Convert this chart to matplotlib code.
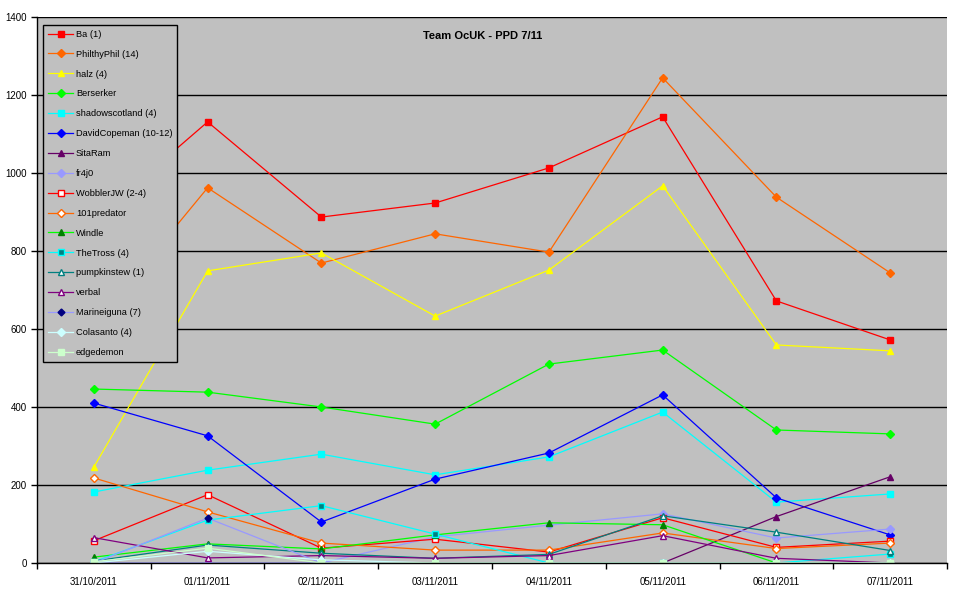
import numpy as np
import matplotlib.pyplot as plt
from matplotlib.ticker import MultipleLocator

plt.rcParams['font.family'] = ['Liberation Sans', 'DejaVu Sans']

nan = np.nan
fechas = ["31/10/2011", "01/11/2011", "02/11/2011", "03/11/2011",
          "04/11/2011", "05/11/2011", "06/11/2011", "07/11/2011"]

ba = [879, 1131, 887, 923, 1013, 1144, 672, 572]
philthyphil = [608, 962, 769, 844, 797, 1244, 938, 744]
halz = [246, 749, 795, 633, 751, 967, 559, 544]
berserker = [446, 438, 400, 356, 510, 546, 341, 331]
shadowscotland = [182, 238, 279, 226, 272, 387, 156, 177]
davidcopeman = [410, 326, 105, 215, 282, 431, 167, 72]
sitaram = [nan, nan, nan, nan, nan, 0, 119, 221]
fr4j0 = [0, 0, 0, 67, 97, 126, 64, 87]
wobblerjw = [57, 175, 38, 61, 28, 116, 40, 56]
predator101 = [218, 131, 51, 33, 33, 77, 37, 51]
windle = [15, 49, 36, 72, 103, 98, 0, 0]
thetross = [3, 110, 147, 74, 0, 0, 0, 23]
pumpkinstew = [5, 46, 25, 12, 22, 121, 79, 32]
verbal = [65, 13, 19, 12, 19, 70, 12, 0]
marineiguna = [0, 115, 0, 0, 0, 0, 0, 0]
colasanto = [0, 30, 8, 0, 0, 0, 0, 0]
edgedemon = [3, 38, 0, 0, 0, 0, 0, 0]

# (nombre, datos, color linea, marcador, relleno, borde, tamaño)
series = [
    ("Ba (1)", ba, "#FF0000", "s", "#FF0000", "#FF0000", 4.5),
    ("PhilthyPhil (14)", philthyphil, "#FF6600", "D", "#FF6600", "#FF6600", 4),
    ("halz (4)", halz, "#FFFF00", "^", "#FFFF00", "#FFFF00", 5),
    ("Berserker", berserker, "#00FF00", "D", "#00FF00", "#00FF00", 4),
    ("shadowscotland (4)", shadowscotland, "#00FFFF", "s", "#00FFFF", "#00FFFF", 4.5),
    ("DavidCopeman (10-12)", davidcopeman, "#0000FF", "D", "#0000FF", "#0000FF", 4),
    ("SitaRam", sitaram, "#660066", "^", "#660066", "#660066", 5),
    ("fr4j0", fr4j0, "#9999FF", "D", "#9999FF", "#9999FF", 4),
    ("WobblerJW (2-4)", wobblerjw, "#FF0000", "s", "white", "#FF0000", 4.5),
    ("101predator", predator101, "#FF6600", "D", "white", "#FF6600", 4),
    ("Windle", windle, "#00FF00", "^", "#008000", "#008000", 5),
    ("TheTross (4)", thetross, "#00FFFF", "s", "#008080", "#00FFFF", 4.5),
    ("pumpkinstew (1)", pumpkinstew, "#008080", "^", "white", "#008080", 5),
    ("verbal", verbal, "#800080", "^", "white", "#800080", 5),
    ("Marineiguna (7)", marineiguna, "#9999FF", "D", "#000080", "#000080", 3.5),
    ("Colasanto (4)", colasanto, "#CCFFFF", "D", "#CCFFFF", "#CCFFFF", 4),
    ("edgedemon", edgedemon, "#CCFFCC", "s", "#CCFFCC", "#CCFFCC", 4.5),
]

fig = plt.figure(figsize=(9.76, 6.0), dpi=100)
ax = fig.add_axes([0.0379, 0.0617, 0.9324, 0.91])
ax.set_facecolor("#C0C0C0")

x = np.arange(len(fechas))
for nombre, datos, color, marca, relleno, borde, tam in series:
    ax.plot(x, datos, color=color, linewidth=0.9, marker=marca, markersize=tam,
            markerfacecolor=relleno, markeredgecolor=borde, markeredgewidth=1,
            label=nombre)

# ejes
ax.set_xlim(-0.5, len(fechas) - 0.5)
ax.set_ylim(0, 1400)
ax.yaxis.set_major_locator(MultipleLocator(200))
ax.grid(axis="y", color="black", linewidth=1)
ax.set_axisbelow(True)
ax.set_xticks(x)
ax.set_xticklabels(fechas, fontsize=7)
ax.set_xticks(np.arange(-0.5, len(fechas)), minor=True)
ax.tick_params(axis="x", which="major", length=0, pad=10)
ax.tick_params(axis="x", which="minor", length=4, width=1, direction="out")
ax.tick_params(axis="y", labelsize=7, length=4, width=1, direction="out")
for lado in ["top", "right"]:
    ax.spines[lado].set_visible(False)
for lado in ["left", "bottom"]:
    ax.spines[lado].set_linewidth(1)

ax.text(0.49, 0.975, "Team OcUK - PPD 7/11", transform=ax.transAxes,
        ha="center", va="top", fontsize=8, fontweight="bold")

leg = ax.legend(loc="upper left", bbox_to_anchor=(0.007, 0.985), fontsize=6.7,
                frameon=True, fancybox=False, edgecolor="black",
                facecolor="#C0C0C0", framealpha=1, labelspacing=1.17,
                handlelength=2.7, borderpad=0.5, handletextpad=0.3,
                borderaxespad=0)
leg.get_frame().set_linewidth(1)

plt.savefig("out.png", dpi=100)
